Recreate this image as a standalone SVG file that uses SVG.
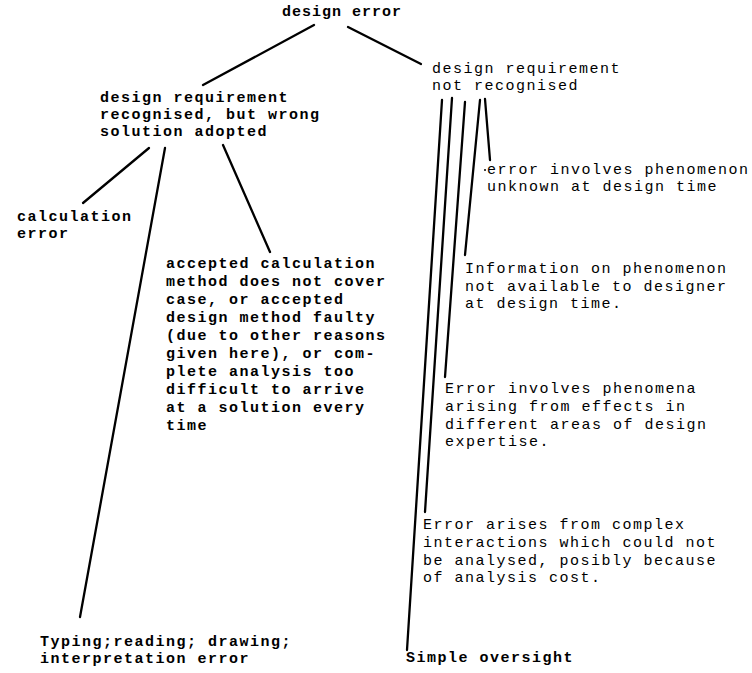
<svg xmlns="http://www.w3.org/2000/svg" width="752" height="673" viewBox="0 0 752 673">
<style>
text{font-family:"Liberation Mono","Courier New",monospace;font-size:15px;letter-spacing:1.5px;fill:#000}
.b{font-weight:bold}
.t{letter-spacing:1px}
.c line{stroke:#000;stroke-width:2.3;stroke-linecap:round}
</style>
<rect width="752" height="673" fill="#fff"/>
<g class="c" id="connectors">
<line x1="314" y1="25" x2="203" y2="85"/>
<line x1="348" y1="27" x2="421" y2="64"/>
<line x1="149" y1="148" x2="83" y2="203"/>
<line x1="165" y1="148" x2="80" y2="617"/>
<line x1="223" y1="145" x2="270" y2="252"/>
<line x1="442" y1="100" x2="407" y2="650"/>
<line x1="452" y1="98" x2="425" y2="512"/>
<line x1="465" y1="102" x2="445" y2="377"/>
<line x1="480" y1="100" x2="465" y2="255"/>
<line x1="485" y1="99" x2="490" y2="160"/>
</g>
<g id="n-design-error"><text class="b t" x="282" y="16">design error</text></g>
<g id="n-recognised"><text class="b" x="100" y="102">design requirement</text><text class="b" x="100" y="119">recognised, but wrong</text><text class="b" x="100" y="136">solution adopted</text></g>
<g id="n-not-recognised"><text x="432" y="73">design requirement</text><text x="432" y="90">not recognised</text></g>
<g id="n-calc"><text class="b" x="17" y="221">calculation</text><text class="b" x="17" y="238">error</text></g>
<g id="n-accepted"><text class="b" x="166" y="268">accepted calculation</text><text class="b" x="166" y="286">method does not cover</text><text class="b" x="166" y="304">case, or accepted</text><text class="b" x="166" y="322">design method faulty</text><text class="b" x="166" y="340">(due to other reasons</text><text class="b" x="166" y="358">given here), or com-</text><text class="b" x="166" y="376">plete analysis too</text><text class="b" x="166" y="394">difficult to arrive</text><text class="b" x="166" y="412">at a solution every</text><text class="b" x="166" y="430">time</text></g>
<g id="n-typing"><text class="b" x="40" y="646">Typing;reading; drawing;</text><text class="b" x="40" y="663">interpretation error</text></g>
<g id="n-unknown"><circle cx="485" cy="170" r="1" fill="#000"/><text x="487" y="174">error involves phenomenon</text><text x="487" y="191">unknown at design time</text></g>
<g id="n-info"><text x="465" y="273">Information on phenomenon</text><text x="465" y="291">not available to designer</text><text x="465" y="308">at design time.</text></g>
<g id="n-areas"><text x="445" y="393">Error involves phenomena</text><text x="445" y="411">arising from effects in</text><text x="445" y="429">different areas of design</text><text x="445" y="446">expertise.</text></g>
<g id="n-complex"><text x="423" y="529">Error arises from complex</text><text x="423" y="547">interactions which could not</text><text x="423" y="565">be analysed, posibly because</text><text x="423" y="582">of analysis cost.</text></g>
<g id="n-oversight"><text class="b" x="406" y="662">Simple oversight</text></g>
</svg>
